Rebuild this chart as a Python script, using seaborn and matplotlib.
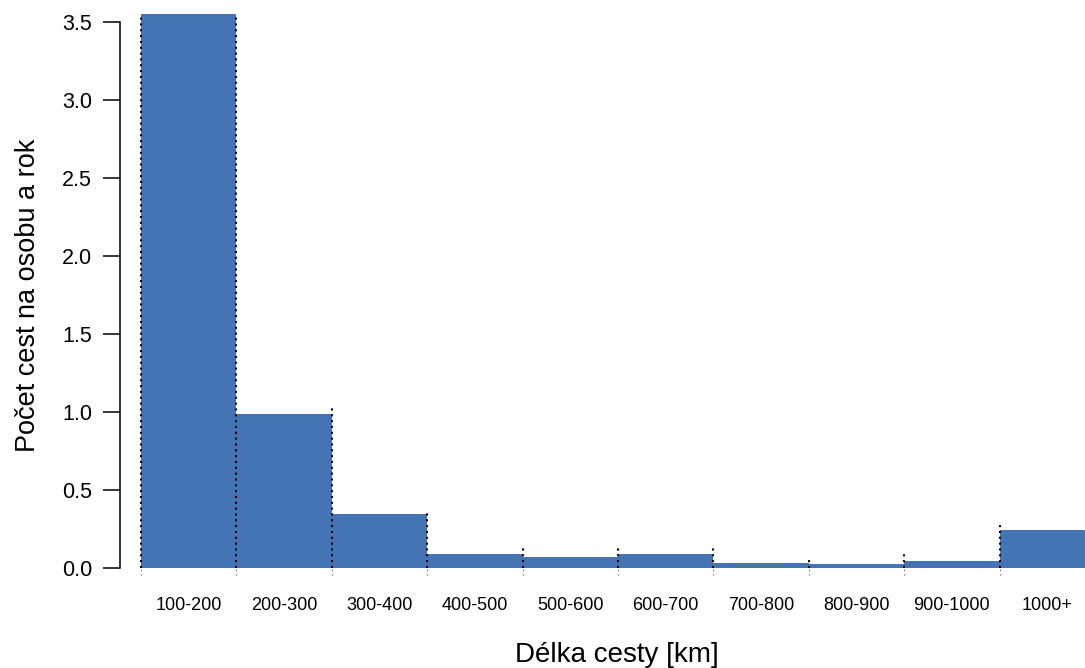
import numpy as np
import pandas as pd
import matplotlib
matplotlib.use("Agg")
import matplotlib.pyplot as plt
import seaborn as sns

# trips per person and year by trip length
categories = ['100-200', '200-300', '300-400', '400-500', '500-600',
              '600-700', '700-800', '800-900', '900-1000', '1000+']
trips = [3.60, 0.99, 0.345, 0.09, 0.069, 0.093, 0.032, 0.026, 0.045, 0.242]

# dotted separator lines at bin boundaries (left edge of each bar) and their tops
boundary_pos = [-0.5, 0.5, 1.5, 2.5, 3.5, 4.5, 5.5, 6.5, 7.5, 8.5]
boundary_top = [3.60, 3.60, 1.03, 0.365, 0.147, 0.147, 0.147, 0.056, 0.098, 0.278]

yticks = [0.0, 0.5, 1.0, 1.5, 2.0, 2.5, 3.0, 3.5]

sns.set_style('white')
plt.rcParams['font.family'] = ['Liberation Sans', 'DejaVu Sans']

df = pd.DataFrame({'kat': categories, 'pocet': trips})

fig = plt.figure(figsize=(10.85, 6.68), dpi=100)
ax = fig.add_axes([120 / 1085, (668 - 576) / 668, 965 / 1085, 562 / 668])

sns.barplot(data=df, x='kat', y='pocet', color='#4474b4', saturation=1,
            width=1.0, edgecolor='none', linewidth=0, ax=ax)

# faint part below the baseline, then the dotted line itself
ax.vlines(boundary_pos, -0.045, 0, colors='#555555',
          linestyles=(0, (1, 3)), linewidth=0.8, zorder=3)
ax.vlines(boundary_pos, 0, boundary_top, colors='black',
          linestyles=(0, (1, 1.8)), linewidth=1.5, zorder=3)

ax.set_xlim(-0.72, 9.395)
ax.set_ylim(-0.05, 3.55)

for s in ['top', 'right', 'bottom']:
    ax.spines[s].set_visible(False)
ax.spines['left'].set_bounds(0, 3.5)
ax.spines['left'].set_linewidth(1.1)
ax.spines['left'].set_color('black')

ax.set_yticks(yticks)
ax.set_yticklabels([f'{v:.1f}' for v in yticks], fontsize=15.5)
ax.tick_params(axis='y', length=12, width=1.1, pad=8, colors='black', left=True)
ax.tick_params(axis='x', length=0, pad=15, labelsize=13, colors='black')

ax.set_ylabel('Počet cest na osobu a rok', fontsize=19.5, color='black')
ax.yaxis.set_label_coords(-0.082, 0.5)
ax.set_xlabel('Délka cesty [km]', fontsize=20, color='black')
ax.xaxis.label.set_va('center')
ax.xaxis.set_label_coords(0.515, -0.1406)

fig.savefig('out.png', dpi=100)
